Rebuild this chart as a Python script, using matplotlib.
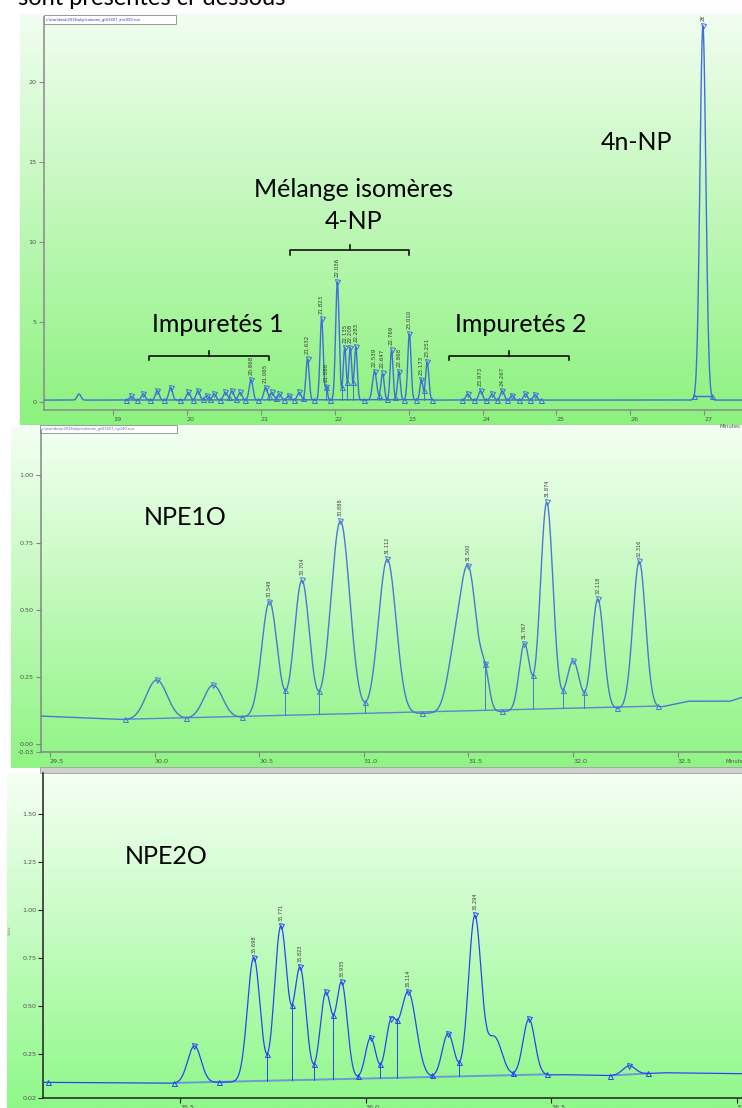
import numpy as np
import matplotlib.pyplot as plt
import matplotlib.colors as mcolors

W, H = 742, 1108

# ---------------- data ----------------
# top run : 4-NP isomers (minutes, height, peak sigma, label)
np_rt = [18.54, 19.25, 19.41, 19.60, 19.78, 20.02, 20.15, 20.27, 20.37, 20.52,
         20.61, 20.72, 20.868, 21.065, 21.15, 21.25, 21.38, 21.52, 21.632, 21.823,
         21.888, 22.036, 22.135, 22.21, 22.285, 22.539, 22.647, 22.769, 22.868, 23.010,
         23.173, 23.251, 23.80, 23.973, 24.13, 24.267, 24.40, 24.58, 24.71, 26.981]
np_height = [0.5, 0.35, 0.5, 0.7, 0.9, 0.6, 0.7, 0.4, 0.5, 0.6,
             0.7, 0.6, 1.4, 0.9, 0.6, 0.5, 0.4, 0.6, 2.7, 5.2,
             0.95, 7.5, 3.4, 3.4, 3.45, 1.9, 1.8, 3.25, 1.9, 4.25,
             1.4, 2.5, 0.5, 0.7, 0.5, 0.7, 0.4, 0.5, 0.45, 23.5]
np_width = [0.025] * 18 + [0.022, 0.022, 0.015, 0.024, 0.02, 0.02, 0.02, 0.028,
                           0.022, 0.02, 0.02, 0.022, 0.02, 0.022] + [0.025] * 7 + [0.04]
np_label = [''] * 12 + ['20.868', '21.065', '', '', '', '', '21.632', '21.823',
                        '21.888', '22.036', '22.135', '22.208', '22.283', '22.539', '22.647', '22.769', '22.868', '23.010',
                        '23.173', '23.251', '', '23.973', '', '24.267', '', '', '', '26.981']
np_base_t = [18.0, 27.6]
np_base_v = [0.12, 0.12]

# middle run : NPE1O
e1_rt = [30.01, 30.28, 30.549, 30.704, 30.888, 31.112, 31.43, 31.500, 31.58, 31.767,
         31.874, 32.00, 32.118, 32.316]
e1_height = [0.239, 0.22, 0.53, 0.61, 0.83, 0.688, 0.40, 0.664, 0.30, 0.374,
             0.90, 0.31, 0.54, 0.68]
e1_width = [0.05, 0.045, 0.037, 0.036, 0.045, 0.042, 0.035, 0.04, 0.02, 0.025,
            0.03, 0.03, 0.028, 0.03]
e1_label = ['', '', '30.549', '30.704', '30.888', '31.112', '', '31.500', '', '31.767',
            '31.874', '', '32.118', '32.316']
e1_nomark = [31.43]
e1_base_t = [29.45, 29.90, 32.40, 32.55, 32.75, 32.81]
e1_base_v = [0.105, 0.09, 0.135, 0.16, 0.16, 0.175]

# bottom run : NPE2O
e2_rt = [35.538, 35.698, 35.771, 35.823, 35.892, 35.935, 36.013, 36.067, 36.114, 36.222,
         36.294, 36.347, 36.44, 36.71]
e2_height = [0.29, 0.75, 0.915, 0.70, 0.57, 0.623, 0.333, 0.43, 0.573, 0.354,
             0.97, 0.34, 0.43, 0.186]
e2_width = [0.018, 0.017, 0.017, 0.016, 0.015, 0.015, 0.014, 0.014, 0.022, 0.016,
            0.017, 0.02, 0.016, 0.017]
e2_label = ['', '35.698', '35.771', '35.823', '', '35.935', '', '', '36.114', '',
            '36.294', '', '', '']
e2_nomark = [36.347]
e2_base_t = [35.13, 35.49, 36.53, 36.66, 36.80, 37.02]
e2_base_v = [0.10, 0.095, 0.14, 0.135, 0.15, 0.145]


def gauss(t, c, s):
    return np.exp(-0.5 * ((t - c) / s) ** 2)


def build(rt, height, width, base_t, base_v):
    rt = np.asarray(rt, float)
    w = np.asarray(width, float)
    target = np.asarray(height, float) - np.interp(rt, base_t, base_v)
    G = gauss(rt[:, None], rt[None, :], w[None, :])
    amp = np.clip(np.linalg.solve(G, target), 0, None)

    def f(t):
        t = np.asarray(t, float)
        return np.interp(t, base_t, base_v) + (amp * gauss(t[..., None], rt, w)).sum(-1)
    return f


def draw_run(ax, rt, height, width, label, base_t, base_v, color, lw, gap,
             nomark=(), first_mark=None, bcolor=None, blw=1.0, label_fs=4.0):
    f = build(rt, height, width, base_t, base_v)
    x0, x1 = ax.get_xlim()
    t = np.linspace(x0, x1, 4000)
    ax.plot(t, f(t), color=color, lw=lw, zorder=3)

    # a shoulder has no valley toward the peak it leans on (its closer neighbour)
    merged = set()
    for i, r in enumerate(rt):
        if r in nomark:
            left = r - rt[i - 1] if i > 0 else 9
            right = rt[i + 1] - r if i + 1 < len(rt) else 9
            merged.add((i - 1, i) if left < right else (i, i + 1))

    # group peaks that touch each other
    groups = [[0]]
    for i in range(1, len(rt)):
        if rt[i] - rt[i - 1] < gap:
            groups[-1].append(i)
        else:
            groups.append([i])
    for g in groups:
        if first_mark is not None and rt[g[0]] < first_mark:
            continue
        start = rt[g[0]] - 3 * width[g[0]]
        end = rt[g[-1]] + 3 * width[g[-1]]
        bx = [start, end]
        by = [f(start), f(end)]
        ax.plot(bx, by, color=bcolor or color, lw=blw, zorder=2)
        valleys = [start]
        for a, b in zip(g[:-1], g[1:]):
            if (a, b) in merged:
                continue
            tt = np.linspace(rt[a], rt[b], 300)
            tv = tt[np.argmin(f(tt))]
            valleys.append(tv)
            yb = np.interp(tv, bx, by)
            ax.plot([tv, tv], [yb, f(tv)], color=color, lw=0.7, zorder=2)
        valleys.append(end)
        ax.plot(valleys, f(valleys), ls='none', marker='^', ms=3.6, mfc='none',
                mec=color, mew=0.7, zorder=4)
        pk = [rt[i] for i in g if rt[i] not in nomark]
        ax.plot(pk, f(pk), ls='none', marker='v', ms=3.6, mfc='none',
                mec=color, mew=0.7, zorder=4)
    for r, lab in zip(rt, label):
        if lab:
            ax.annotate(lab, (r, f(r)), xytext=(0, 3.5), textcoords='offset points',
                        rotation=90, ha='center', va='bottom', fontsize=label_fs,
                        color='#3a3a3a', zorder=5, annotation_clip=False, clip_on=True)
    return f


def gradient(ax, x0, x1, y0, y1, top, bottom):
    c = np.linspace(0, 1, 256)[:, None]
    a = np.array(mcolors.to_rgb(top))
    b = np.array(mcolors.to_rgb(bottom))
    img = a + (b - a) * c
    ax.imshow(img[:, None, :], extent=(x0, x1, y1, y0), aspect='auto',
              interpolation='bilinear', zorder=0)


def px_axes(l, t, r, b, z=1):
    ax = fig.add_axes([l / W, 1 - b / H, (r - l) / W, (b - t) / H], zorder=z)
    ax.patch.set_alpha(0)
    return ax


def style(ax, spine_color, xt, xtl, yt, ytl):
    for s in ['top', 'right']:
        ax.spines[s].set_visible(False)
    for s in ['left', 'bottom']:
        ax.spines[s].set_color(spine_color)
        ax.spines[s].set_linewidth(1.1)
    ax.set_xticks(xt)
    ax.set_xticklabels(xtl)
    ax.set_yticks(yt)
    ax.set_yticklabels(ytl)
    ax.tick_params(axis='both', direction='out', length=3.5, width=0.8,
                   color=spine_color, labelsize=4.6, labelcolor='#505050', pad=1.5)
    for lb in ax.get_xticklabels():
        lb.set_ha('left')


fig = plt.figure(figsize=(W / 100, H / 100), dpi=100)
fig.patch.set_facecolor('white')

bg = fig.add_axes([0, 0, 1, 1], zorder=0)
bg.set_xlim(0, W)
bg.set_ylim(H, 0)
bg.axis('off')
gradient(bg, 20, W, 14, 425, '#f1fdf0', '#8cf27e')
gradient(bg, 11, W, 427, 768, '#f3fff2', '#8ff484')
gradient(bg, 7, W, 773, H, '#f5fff4', '#8ff889')
bg.add_patch(plt.Rectangle((40, 767), W - 40, 6, fc='#cfcfcf', ec='#a0a0a0', lw=0.6, zorder=1))
bg.add_patch(plt.Rectangle((44, 15), 132, 9, fc='white', ec='#8a8a8a', lw=0.6, zorder=1))
bg.text(46, 19.5, r'c:\star\data\2018\akp\colonne_gt03407_anc090.run', fontsize=2.6,
        color='#3030c0', va='center', zorder=2)
bg.add_patch(plt.Rectangle((40, 425), 137, 8, fc='white', ec='#8a8a8a', lw=0.6, zorder=1))
bg.text(42, 429, r'c:\star\data\2018\akp\colonne_gt03407_np140.run', fontsize=2.6,
        color='#6060b0', va='center', zorder=2)
bg.text(18, 5, 'sont présentés ci-dessous', fontsize=17, family='Lato',
        color='black', va='baseline', ha='left', zorder=2)
bg.text(8, 930, 'Volts', fontsize=2.8, rotation=90, color='#888888', va='center')

# ---------------- top panel ----------------
ax1 = px_axes(43.5, 17, W, 410)
ax1.set_xlim(18.06, 27.51)
ax1.set_ylim(-0.5, 24.05)
style(ax1, '#8a8a8a', range(19, 28), [str(v) for v in range(19, 28)],
      [0, 5, 10, 15, 20], ['0', '5', '10', '15', '20'])
draw_run(ax1, np_rt, np_height, np_width, np_label, np_base_t, np_base_v,
         '#3f6fd8', 1.0, 0.35, first_mark=19.0, label_fs=4.0)
ax1.text(0.997, -0.035, 'Minutes', transform=ax1.transAxes, fontsize=3.8,
         color='#505050', ha='right', va='top')

for xa, xb, yb in [(19.49, 21.11, 2.9), (21.39, 23.01, 9.5), (23.55, 25.17, 2.9)]:
    ax1.plot([xa, xa, xb, xb], [yb - 0.3, yb, yb, yb - 0.3], color='black', lw=1.1,
             clip_on=False, zorder=6)
    ax1.plot([(xa + xb) / 2] * 2, [yb, yb + 0.3], color='black', lw=1.1, zorder=6)

tkw = dict(family='Lato', fontsize=18, color='black', ha='center', va='center', zorder=6)
ax1.text(20.42, 4.85, 'Impuretés 1', **tkw)
ax1.text(24.51, 4.85, 'Impuretés 2', **tkw)
ax1.text(22.26, 13.3, 'Mélange isomères', **tkw)
ax1.text(22.26, 11.25, '4-NP', **tkw)
ax1.text(26.08, 16.2, '4n-NP', **tkw)

# ---------------- middle panel ----------------
ax2 = px_axes(40.7, 430, W, 752.3)
ax2.set_xlim(29.456, 32.807)
ax2.set_ylim(-0.0297, 1.169)
e1_ticks = [29.5, 30.0, 30.5, 31.0, 31.5, 32.0, 32.5]
style(ax2, '#7f8a7f', e1_ticks, ['%.1f' % v for v in e1_ticks],
      [-0.03, 0, 0.25, 0.5, 0.75, 1.0], ['-0.03', '0.00', '0.25', '0.50', '0.75', '1.00'])
draw_run(ax2, e1_rt, e1_height, e1_width, e1_label, e1_base_t, e1_base_v,
         '#4a78d2', 1.0, 0.35, nomark=e1_nomark, bcolor='#5d86cc', blw=1.0, label_fs=3.6)
ax2.text(32.73, -0.055, 'Minutes', fontsize=3.8, color='#505050', ha='left', va='top')
ax2.text(30.145, 0.845, 'NPE1O', **tkw)

# ---------------- bottom panel ----------------
ax3 = px_axes(43.3, 773, W, 1097.7)
ax3.set_xlim(35.1305, 37.0145)
ax3.set_ylim(0.02, 1.711)
e2_ticks = [35.5, 36.0, 36.5, 37.0]
style(ax3, '#202020', e2_ticks, ['%.1f' % v for v in e2_ticks],
      [0.02, 0.25, 0.5, 0.75, 1.0, 1.25, 1.5],
      ['0.02', '0.25', '0.50', '0.75', '1.00', '1.25', '1.50'])
draw_run(ax3, e2_rt, e2_height, e2_width, e2_label, e2_base_t, e2_base_v,
         '#2b44f2', 0.9, 0.2, nomark=e2_nomark, bcolor='#6c9ad8', blw=1.4, label_fs=3.6)
ax3.plot([35.143], [0.10], ls='none', marker='^', ms=3.6, mfc='none', mec='#2b44f2', mew=0.7)
ax3.text(35.462, 1.274, 'NPE2O', **tkw)

fig.savefig('out.png', dpi=100)
